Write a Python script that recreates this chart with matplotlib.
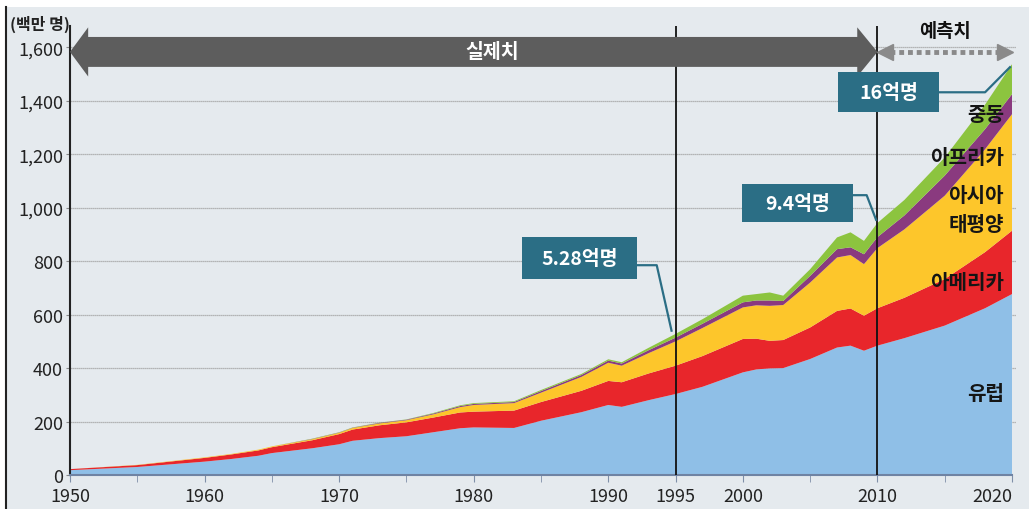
import matplotlib
matplotlib.use('Agg')
import matplotlib.pyplot as plt
import matplotlib.patches as patches
import numpy as np

plt.rcParams['font.family'] = ['Noto Sans CJK KR', 'DejaVu Sans']

## data (백만 명)
years = [1950, 1955, 1960, 1962, 1964, 1965, 1968, 1970, 1971, 1973, 1975, 1977,
         1979, 1980, 1983, 1985, 1988, 1990, 1991, 1993, 1995, 1997, 2000, 2001,
         2002, 2003, 2005, 2007, 2008, 2009, 2010, 2012, 2015, 2018, 2020]
europe = [18, 30, 50, 60, 72, 82, 100, 115, 128, 138, 145, 160,
          175, 178, 176, 203, 235, 262, 255, 280, 303, 330, 384, 395,
          399, 400, 434, 477, 484, 465, 484, 512, 559, 624, 677]
america = [4, 7, 14, 17, 20, 22, 30, 38, 42, 48, 52, 55,
           59, 59, 65, 70, 80, 90, 92, 100, 106, 115, 125, 115,
           103, 105, 118, 137, 139, 131, 140, 151, 174, 210, 237]
asia_pac = [0, 1, 2, 2, 3, 3, 4, 5, 6, 7, 8, 12,
            20, 25, 28, 35, 52, 68, 62, 76, 91, 105, 118, 125,
            131, 131, 168, 200, 200, 193, 225, 256, 312, 385, 436]
africa = [0, 0, 0, 0, 0, 0, 1, 1, 1, 2, 2, 3,
          4, 4, 4, 6, 7, 8, 8, 11, 14, 16, 19, 18,
          20, 15, 25, 31, 29, 37, 41, 52, 75, 75, 75]
mideast = [0, 0, 0, 0, 0, 0, 1, 1, 1, 1, 1, 2,
           3, 3, 3, 4, 4, 5, 5, 9, 14, 17, 25, 24,
           30, 20, 25, 44, 56, 50, 53, 58, 68, 92, 112]

region_names = ['유럽', '아메리카', '아시아\n태평양', '아프리카', '중동']
region_colors = ['#8fbfe7', '#e8262b', '#fdc62b', '#8a3a7f', '#8cc43f']

ytick_vals = [0, 200, 400, 600, 800, 1000, 1200, 1400, 1600]
ytick_labels = ['0', '200', '400', '600', '800', '1,000', '1,200', '1,400', '1,600']
xtick_major = [1950, 1960, 1970, 1980, 1990, 1995, 2000, 2010, 2020]
xtick_minor = [1955, 1965, 1975, 1985, 2005, 2015]

bg = '#e5eaee'
teal = '#2b6e85'

fig = plt.figure(figsize=(10.29, 5.10), dpi=100, facecolor='white')
# light panel with a dark left border like the source screenshot
fig.patches.append(patches.Rectangle((6 / 1029, 0), 1 - 6 / 1029, 1 - 8 / 510,
                                     transform=fig.transFigure, facecolor=bg,
                                     edgecolor='none', zorder=-10))
fig.lines.append(plt.Line2D([6 / 1029, 6 / 1029], [0, 1 - 8 / 510],
                            transform=fig.transFigure, color='#222222', lw=1.5,
                            zorder=-9))

ax = fig.add_axes([70 / 1029, 34 / 510, 942 / 1029, 449 / 510])
ax.set_facecolor('none')

ax.stackplot(years, europe, america, asia_pac, africa, mideast,
             colors=region_colors, linewidth=0, zorder=2)

ax.set_xlim(1950, 2020)
ax.set_ylim(0, 1680)

for v in ytick_vals[1:]:
    ax.plot([1950, 2020.3], [v, v], color='#a3a3a3', lw=0.9, ls=(0, (1, 0.6)),
            zorder=1, clip_on=False)

ax.set_yticks(ytick_vals)
ax.set_yticklabels(ytick_labels, fontsize=13, color='#222222')
ax.set_xticks(xtick_major)
ax.set_xticklabels([str(x) for x in xtick_major], fontsize=13, color='#222222')
ax.get_xticklabels()[-1].set_horizontalalignment('right')
ax.set_xticks(xtick_minor, minor=True)
ax.tick_params(axis='y', length=3, pad=2, color='#888888')
ax.tick_params(axis='x', which='both', length=5, pad=4, color='#7f8fa8', direction='out')

for s in ['top', 'right']:
    ax.spines[s].set_visible(False)
ax.spines['left'].set_color('#222222')
ax.spines['left'].set_linewidth(1.5)
ax.spines['bottom'].set_color('#6f83a3')
ax.spines['bottom'].set_linewidth(1.5)

ax.axvline(1995, color='#111111', lw=1.3, zorder=4)
ax.axvline(2010, color='#111111', lw=1.3, zorder=4)

# big "실제치" double arrow
yc, bh, hh = 1583, 56, 92
hl_l, hl_r = 1.35, 1.5
x0, x1 = 1950, 2010
arrow_pts = [(x0, yc), (x0 + hl_l, yc + hh), (x0 + hl_l, yc + bh), (x1 - hl_r, yc + bh),
             (x1 - hl_r, yc + hh), (x1, yc), (x1 - hl_r, yc - hh), (x1 - hl_r, yc - bh),
             (x0 + hl_l, yc - bh), (x0 + hl_l, yc - hh)]
ax.add_patch(patches.Polygon(arrow_pts, closed=True, facecolor='#5d5d5d',
                             edgecolor='none', zorder=5, clip_on=False))
ax.text(1981.4, yc, '실제치', color='white', fontsize=14, fontweight='bold',
        ha='center', va='center', zorder=6)

# dotted "예측치" arrow
ax.plot([2010.9, 2019.2], [yc, yc], color='#8a8a8a', lw=3.5, ls=(0, (1, 0.8)),
        zorder=5, clip_on=False)
ax.plot([2010.55], [yc], marker='<', color='#8a8a8a', ms=11, zorder=5, clip_on=False)
ax.plot([2019.5], [yc], marker='>', color='#8a8a8a', ms=11, zorder=5, clip_on=False)
ax.text(2015, 1663, '예측치', color='#111111', fontsize=13.5, fontweight='bold',
        ha='center', va='center', zorder=6, clip_on=False)

# "(백만 명)"
fig.text(10 / 1029, 1 - 24 / 510, '(백만 명)', fontsize=11.5, fontweight='bold',
         color='#222222', ha='left', va='center')

# callout boxes (x0, x1, y0, y1) with leader lines
callouts = [
    ('5.28억명', (1983.6, 1992.1, 733, 890), [(1992.1, 785), (1993.6, 785), (1994.7, 540)]),
    ('9.4억명', (1999.9, 2008.2, 946, 1088), [(2008.2, 1047), (2009.2, 1047), (2009.9, 955)]),
    ('16억명', (2007.1, 2014.6, 1358, 1507), [(2014.6, 1432), (2018.0, 1432), (2019.85, 1526)]),
]
for txt, (bx0, bx1, by0, by1), leader in callouts:
    lx, ly = zip(*leader)
    ax.plot(lx, ly, color=teal, lw=1.6, zorder=6, clip_on=False)
    ax.add_patch(patches.Rectangle((bx0, by0), bx1 - bx0, by1 - by0, facecolor=teal,
                                   edgecolor='none', zorder=7))
    ax.text((bx0 + bx1) / 2, (by0 + by1) / 2, txt, color='white', fontsize=14,
            fontweight='bold', ha='center', va='center', zorder=8)

# region labels at the right
label_pos = [(2019.4, 310), (2019.4, 725), (2019.4, 995), (2019.4, 1190), (2019.4, 1352)]
for name, (lx, ly) in zip(region_names, label_pos):
    ax.text(lx, ly, name, fontsize=14.5, fontweight='bold', color='#151515',
            ha='right', va='center', zorder=6, linespacing=1.45)

fig.savefig('out.png', dpi=100, facecolor=fig.get_facecolor())
